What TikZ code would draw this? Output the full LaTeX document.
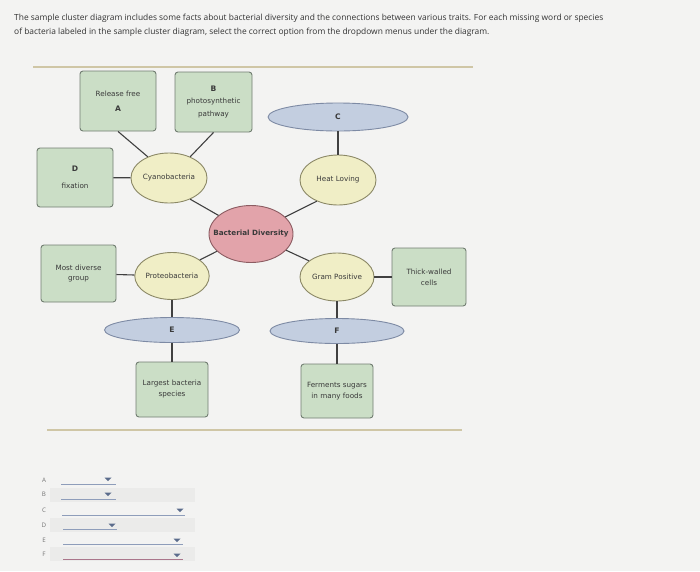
\documentclass[tikz,border=0pt]{standalone}
\usepackage{fontspec}
\setmainfont{Open Sans}
\newfontfamily\diagfont{DejaVu Sans}
\usetikzlibrary{shapes.geometric}
\definecolor{page}{HTML}{F3F3F2}
\definecolor{fact}{HTML}{CBDEC6}
\definecolor{factb}{HTML}{717D71}
\definecolor{group}{HTML}{F0EEC6}
\definecolor{groupb}{HTML}{8B8866}
\definecolor{blank}{HTML}{C3CEE0}
\definecolor{blankb}{HTML}{7D8AA4}
\definecolor{hub}{HTML}{E2A3AA}
\definecolor{hubb}{HTML}{8C5C62}
\definecolor{rulec}{HTML}{CFC6A6}
\definecolor{ink}{HTML}{3A3A3A}
\definecolor{drop}{HTML}{5B6C8C}
\definecolor{dropl}{HTML}{8E9DBA}
\definecolor{band}{HTML}{EBEBEA}

\begin{document}
\begin{tikzpicture}[
  x=1pt, y=-1pt,
  font=\diagfont\fontsize{7.2}{11}\selectfont, text=ink,
  box/.style={draw=factb, fill=fact, rounded corners=3pt, align=center, minimum width=75pt, minimum height=58pt, inner sep=2pt, line width=.9pt},
  grp/.style={ellipse, draw=groupb, fill=group, minimum width=76pt, minimum height=50pt, inner sep=0pt, line width=.9pt},
  blankc/.style={ellipse, draw=blankb, fill=blank, minimum height=26pt, inner sep=0pt, line width=.9pt, font=\diagfont\bfseries\fontsize{7.6}{8}\selectfont},
  hubc/.style={ellipse, draw=hubb, fill=hub, minimum width=84pt, minimum height=57pt, inner xsep=-10pt, inner ysep=0pt, line width=.9pt, font=\diagfont\bfseries\fontsize{7.2}{8}\selectfont},
  link/.style={line width=1.1pt, black!75},
  head/.style={font=\fontsize{8.4}{9}\selectfont, text=black!80, anchor=base west, inner sep=0pt},
  rowl/.style={font=\fontsize{6.2}{7}\selectfont, text=black!55, inner sep=0pt},
  dd/.style={line width=.8pt, dropl},
]
\useasboundingbox[fill=page] (0,0) rectangle (700,571);

% ---------------- question text
\node[head] (q1) at (14,20) {The sample cluster diagram includes some facts about bacterial diversity and the connections between various traits. For each missing word or species};
\node[head] (q2) at (14,34) {of bacteria labeled in the sample cluster diagram, select the correct option from the dropdown menus under the diagram.};

\draw[rulec, line width=2pt] (33,67) -- (473,67);
\draw[rulec, line width=2pt] (47,430) -- (462,430);

% ---------------- hub
\node[hubc] (bd) at (251,234) {Bacterial Diversity};

% ---------------- groups
\node[grp] (cyano)  at (169,178) {Cyanobacteria};
\node[grp] (heat)   at (338,180) {Heat Loving};
\node[grp, minimum width=74pt, minimum height=47pt] (proteo) at (172,276) {Proteobacteria};
\node[grp, minimum width=74pt, minimum height=48pt] (gram)   at (337,277) {Gram Positive};

% ---------------- missing species
\node[blankc, minimum width=140pt, minimum height=28pt] (spC) at (338,117) {C};
\node[blankc, minimum width=135pt, minimum height=25pt] (spE) at (172,330) {E};
\node[blankc, minimum width=134pt, minimum height=25pt] (spF) at (337,331) {F};

% ---------------- facts
\node[box, minimum width=76pt, minimum height=60pt] (relA) at (118,101) {Release free\\[4pt]\textbf{\fontsize{7.6}{8}\selectfont A}};
\node[box, minimum width=77pt, minimum height=60pt] (photoB) at (213.5,102) {\textbf{\fontsize{7.6}{8}\selectfont B}\\[1pt]photosynthetic\\[2pt]pathway};
\node[box, minimum width=76pt, minimum height=59pt] (fixD) at (75,177.5) {\textbf{\fontsize{7.6}{8}\selectfont D}\\[6pt]fixation};
\node[box, minimum height=57pt] (most) at (78.5,273.5) {Most diverse\\[-1pt]group};
\node[box, minimum width=74pt] (thick) at (429,277) {Thick-walled\\cells};
\node[box, minimum width=72pt, minimum height=55pt] (largest) at (172,389.5) {Largest bacteria\\species};
\node[box, minimum width=72pt, minimum height=54pt] (ferm) at (337,391) {Ferments sugars\\in many foods};

% ---------------- links
\draw[link] (relA.south) -- (cyano.135);
\draw[link] (photoB.south) -- (cyano.45);
\draw[link] (fixD) -- (cyano);
\draw[link] (cyano.-45) -- (bd);
\draw[link] (spC) -- (heat);
\draw[link] (heat.-135) -- (bd);
\draw[link] (most) -- (proteo);
\draw[link] (proteo.30) -- (bd);
\draw[link] (proteo) -- (spE);
\draw[link] (spE) -- (largest);
\draw[link] (gram.150) -- (bd);
\draw[link] (gram) -- (thick);
\draw[link] (gram) -- (spF);
\draw[link] (spF) -- (ferm);

% ---------------- dropdown menus
\fill[band] (50,488) rectangle (195,502);
\fill[band] (50,518) rectangle (195,532);
\fill[band] (50,547) rectangle (195,561);

\node[rowl] (rowA) at (44,480) {A};
\node[rowl] (rowB) at (44,494) {B};
\node[rowl] (rowC) at (44,510) {C};
\node[rowl] (rowD) at (44,525) {D};
\node[rowl] (rowE) at (44,540) {E};
\node[rowl] (rowF) at (44,554) {F};

\draw[dd] (61,484) -- (116,484);
\draw[dd] (61,499) -- (116,499);
\draw[dd] (62,515) -- (185,515);
\draw[dd] (63,529) -- (117,529);
\draw[dd] (63,544) -- (183,544);
\draw[dd, draw=red!25!dropl] (63,559) -- (183,559);

\fill[drop] (104.5,477.5) -- (111.5,477.5) -- (108,481) -- cycle;
\fill[drop] (104.5,492.5) -- (111.5,492.5) -- (108,496) -- cycle;
\fill[drop] (176.5,508.5) -- (183.5,508.5) -- (180,512) -- cycle;
\fill[drop] (108.5,523.5) -- (115.5,523.5) -- (112,527) -- cycle;
\fill[drop] (173.5,538.5) -- (180.5,538.5) -- (177,542) -- cycle;
\fill[drop] (173.5,553.5) -- (180.5,553.5) -- (177,557) -- cycle;

\end{tikzpicture}
\end{document}
